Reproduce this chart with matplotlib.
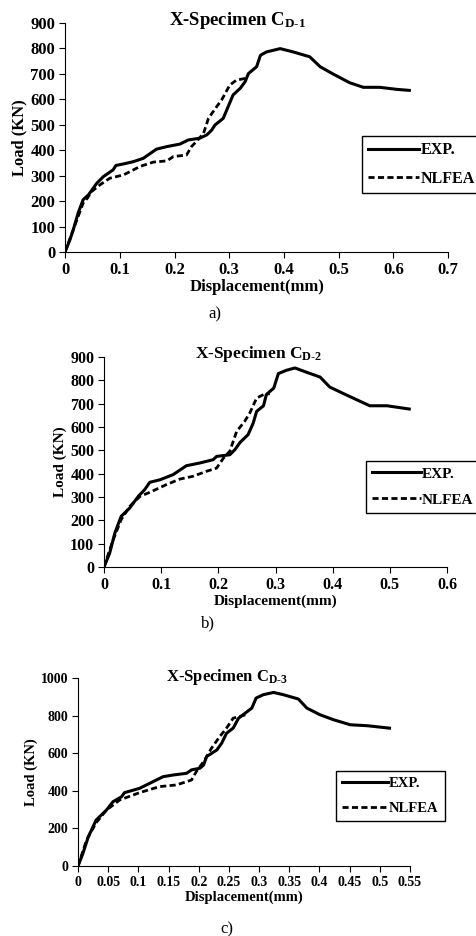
import matplotlib
matplotlib.use("Agg")
import matplotlib.pyplot as plt

plt.rcParams['font.family'] = ['Liberation Serif', 'DejaVu Serif']
plt.rcParams['font.weight'] = 'bold'
plt.rcParams['mathtext.fontset'] = 'custom'
plt.rcParams['mathtext.rm'] = 'Liberation Serif:bold'
plt.rcParams['mathtext.it'] = 'Liberation Serif:bold'
plt.rcParams['mathtext.bf'] = 'Liberation Serif:bold'

# ---- panel a) C_D-1
exp1_x = [0, 0.009, 0.015, 0.024, 0.033, 0.043, 0.058, 0.070, 0.088, 0.093, 0.107, 0.125,
          0.143, 0.167, 0.186, 0.210, 0.225, 0.246, 0.259, 0.268, 0.274, 0.289, 0.298,
          0.307, 0.320, 0.329, 0.335, 0.350, 0.357, 0.368, 0.393, 0.417, 0.447, 0.466,
          0.490, 0.520, 0.545, 0.575, 0.606, 0.629]
exp1_y = [0, 48, 87, 153, 205, 225, 270, 296, 323, 340, 346, 355, 368, 404, 414, 424,
          440, 447, 460, 479, 499, 525, 571, 617, 643, 669, 701, 728, 773, 786, 799,
          786, 767, 728, 699, 665, 647, 647, 639, 635]
fea1_x = [0, 0.015, 0.033, 0.041, 0.049, 0.064, 0.082, 0.107, 0.137, 0.161, 0.186, 0.198,
          0.222, 0.231, 0.240, 0.253, 0.262, 0.277, 0.286, 0.301, 0.313, 0.329]
fea1_y = [0, 87, 192, 212, 238, 264, 290, 303, 336, 353, 358, 375, 381, 414, 434, 466,
          525, 571, 597, 656, 675, 682]

# ---- panel b) C_D-2
exp2_x = [0, 0.010, 0.019, 0.030, 0.045, 0.060, 0.071, 0.080, 0.098, 0.121, 0.144, 0.168,
          0.191, 0.197, 0.220, 0.229, 0.238, 0.252, 0.261, 0.267, 0.279, 0.284, 0.297,
          0.305, 0.319, 0.334, 0.355, 0.378, 0.395, 0.419, 0.448, 0.465, 0.495, 0.534]
exp2_y = [0, 60, 146, 217, 253, 303, 331, 363, 374, 396, 434, 446, 460, 474, 481, 503,
          534, 567, 617, 667, 691, 739, 767, 829, 843, 853, 834, 814, 771, 743, 710,
          691, 691, 677]
fea2_x = [0, 0.016, 0.030, 0.045, 0.063, 0.080, 0.109, 0.133, 0.156, 0.179, 0.197, 0.209,
          0.220, 0.232, 0.246, 0.255, 0.267, 0.279, 0.290]
fea2_y = [0, 117, 203, 260, 303, 320, 353, 377, 389, 410, 424, 467, 496, 581, 624, 660,
          724, 739, 743]

# ---- panel c) C_D-3
exp3_x = [0, 0.008, 0.017, 0.030, 0.047, 0.058, 0.072, 0.077, 0.102, 0.119, 0.141, 0.158,
          0.180, 0.188, 0.202, 0.208, 0.213, 0.230, 0.238, 0.246, 0.257, 0.266, 0.277,
          0.288, 0.295, 0.307, 0.324, 0.340, 0.365, 0.379, 0.401, 0.423, 0.451, 0.479,
          0.516]
exp3_y = [0, 66, 155, 244, 297, 342, 368, 390, 413, 440, 475, 484, 493, 511, 520, 537,
          582, 617, 653, 706, 733, 786, 813, 840, 893, 911, 923, 911, 888, 840, 804,
          778, 751, 746, 733]
fea3_x = [0, 0.014, 0.030, 0.047, 0.069, 0.102, 0.135, 0.163, 0.188, 0.196, 0.210, 0.221,
          0.235, 0.246, 0.257, 0.268, 0.277]
fea3_y = [0, 137, 230, 297, 351, 390, 422, 431, 457, 502, 564, 626, 689, 733, 786, 795,
          804]

panels = [
    dict(exp=(exp1_x, exp1_y), fea=(fea1_x, fea1_y), title=r'X-Specimen C$_{\text{D-1}}$',
         xlim=0.7, xticks=[0, 0.1, 0.2, 0.3, 0.4, 0.5, 0.6, 0.7], xlabels=['0', '0.1', '0.2', '0.3', '0.4', '0.5', '0.6', '0.7'],
         ylim=900, yticks=range(0, 901, 100), pos=[0.1366, 0.7308, 0.805, 0.2447],
         leg=(0.775, 0.507), cap='a)', capy=0.660, capx=0.452, fs=12, lbl=11, lfs=11.5,
         tt=(237, 25)),
    dict(exp=(exp2_x, exp2_y), fea=(fea2_x, fea2_y), title=r'X-Specimen C$_{\text{D-2}}$',
         xlim=0.6, xticks=[0, 0.1, 0.2, 0.3, 0.4, 0.5, 0.6], xlabels=['0', '0.1', '0.2', '0.3', '0.4', '0.5', '0.6'],
         ylim=900, yticks=range(0, 901, 100), pos=[0.2185, 0.3942, 0.7206, 0.2244],
         leg=(0.764, 0.505), cap='b)', capy=0.330, capx=0.437, fs=11.5, lbl=10, lfs=11,
         tt=(259, 358)),
    dict(exp=(exp3_x, exp3_y), fea=(fea3_x, fea3_y), title=r'X-Specimen C$_{\text{D-3}}$',
         xlim=0.55, xticks=[0, 0.05, 0.1, 0.15, 0.2, 0.25, 0.3, 0.35, 0.4, 0.45, 0.5, 0.55],
         xlabels=['0', '0.05', '0.1', '0.15', '0.2', '0.25', '0.3', '0.35', '0.4', '0.45', '0.5', '0.55'],
         ylim=1000, yticks=range(0, 1001, 200), pos=[0.1639, 0.0748, 0.6975, 0.2009],
         leg=(0.777, 0.505), cap='c)', capy=0.003, capx=0.477, fs=10, lbl=9.5, lfs=10.5,
         tt=(227, 681)),
]

W, H = 476, 936
fig = plt.figure(figsize=(W / 100, H / 100), dpi=100)

for p in panels:
    ax = fig.add_axes(p['pos'])
    ax.plot(*p['exp'], color='black', lw=2.2, label='EXP.')
    ax.plot(*p['fea'], color='black', lw=2.0, ls=(0, (2.2, 1.2)), label='NLFEA')
    ax.set_xlim(0, p['xlim'])
    ax.set_ylim(0, p['ylim'])
    ax.set_xticks(p['xticks'])
    ax.set_xticklabels(p['xlabels'])
    ax.set_yticks(list(p['yticks']))
    ax.spines['top'].set_visible(False)
    ax.spines['right'].set_visible(False)
    ax.tick_params(labelsize=p['fs'], direction='out', length=4, width=0.8, pad=3)
    ax.set_xlabel('Displacement(mm)', fontsize=p['lbl'] + 1, fontweight='bold', labelpad=1)
    ax.set_ylabel('Load (KN)', fontsize=p['lbl'] + 1, fontweight='bold', labelpad=2)
    fig.text(p['tt'][0] / W, 1 - p['tt'][1] / H, p['title'], fontsize=p['lbl'] + 2.5,
             fontweight='bold', ha='center', va='baseline')
    leg = ax.legend(loc='upper left', bbox_to_anchor=p['leg'], borderaxespad=0,
                    fontsize=p['lfs'], fancybox=False, edgecolor='black',
                    handlelength=3.2, handletextpad=0.05, labelspacing=0.8, framealpha=1)
    leg.get_frame().set_linewidth(1.0)
    fig.text(p['capx'], p['capy'], p['cap'], fontsize=12, fontweight='normal', ha='center')

fig.savefig('out.png', dpi=100)
